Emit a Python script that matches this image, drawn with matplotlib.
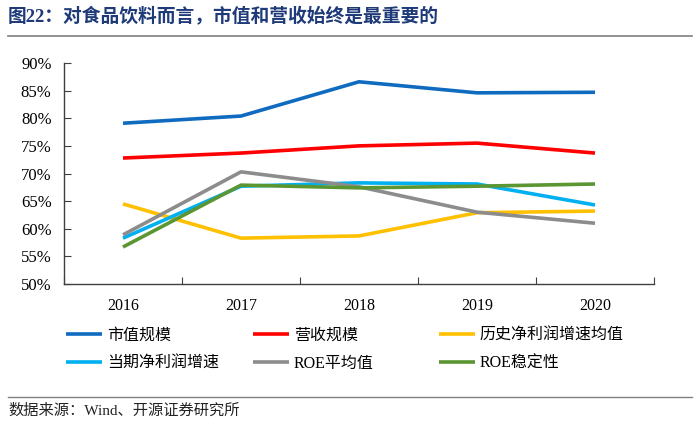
import matplotlib
matplotlib.use('Agg')
import matplotlib.pyplot as plt
from matplotlib.lines import Line2D
import numpy as np

plt.rcParams['font.family'] = ['Liberation Serif', 'Noto Sans CJK SC', 'DejaVu Sans']

years = ['2016', '2017', '2018', '2019', '2020']
shizhi = [79.1, 80.4, 86.6, 84.6, 84.7]
yingshou = [72.8, 73.7, 75.0, 75.5, 73.7]
lishi_jlr = [64.5, 58.3, 58.7, 62.9, 63.2]
dangqi_jlr = [58.3, 67.7, 68.3, 68.1, 64.3]
roe_avg = [58.9, 70.3, 67.6, 63.0, 61.0]
roe_std = [56.7, 67.9, 67.4, 67.7, 68.1]

series = [
    ('市值规模', shizhi, '#0F6BBF'),
    ('营收规模', yingshou, '#FF0000'),
    ('历史净利润增速均值', lishi_jlr, '#FFC000'),
    ('当期净利润增速', dangqi_jlr, '#00B0F0'),
    ('ROE平均值', roe_avg, '#8C8C8C'),
    ('ROE稳定性', roe_std, '#5B9632'),
]

W, H = 700, 429
fig = plt.figure(figsize=(W / 100, H / 100), dpi=100)
ax = fig.add_axes([64 / W, 1 - 284 / H, (654 - 64) / W, (284 - 63) / H])

x = np.arange(len(years))
lines = []
for name, vals, col in series:
    ln, = ax.plot(x, vals, color=col, lw=2.6, label=name, solid_capstyle='butt')
    lines.append(ln)

ax.set_xlim(-0.5, len(years) - 0.5)
ax.set_ylim(50, 90)
ax.set_yticks(np.arange(50, 91, 5))
ax.set_yticklabels(['%d%%' % v for v in range(50, 91, 5)])
ax.set_xticks(np.arange(-0.5, len(years), 1.0))
ax.set_xticklabels([])
ax.set_xticks(x, minor=True)
ax.set_xticklabels(years, minor=True)
ax.tick_params(axis='x', which='minor', length=0, pad=10, labelsize=11.5)
ax.tick_params(axis='x', which='major', direction='in', length=5, color='#404040')
ax.tick_params(axis='y', direction='in', length=5, color='#404040', labelsize=12, pad=9)
for s in ['top', 'right']:
    ax.spines[s].set_visible(False)
for s in ['left', 'bottom']:
    ax.spines[s].set_color('#404040')
    ax.spines[s].set_linewidth(1.0)

# legend: three columns placed separately
cols_x = [66, 253, 439]
for i, cx in enumerate(cols_x):
    hs = [lines[i], lines[i + 3]]
    fig.legend(handles=hs, labels=[h.get_label() for h in hs],
               loc='upper left', bbox_to_anchor=(cx / W, 1 - 328 / H),
               frameon=False, fontsize=11.5, handlelength=2.25,
               handletextpad=0.3, labelspacing=0.72, borderpad=0, borderaxespad=0)

# title and footer
fig.text(8 / W, 1 - 17 / H, '图22：对食品饮料而言，市值和营收始终是最重要的',
         fontsize=13.5, fontweight='bold', color='#1F3A78', va='center', ha='left')
fig.add_artist(Line2D([8 / W, 692 / W], [1 - 36 / H, 1 - 36 / H], color='#808080', lw=1.2))
fig.add_artist(Line2D([8 / W, 692 / W], [1 - 397 / H, 1 - 397 / H], color='#808080', lw=1.0))
fig.text(8 / W, 1 - 411 / H, '数据来源：Wind、开源证券研究所',
         fontsize=11, color='#222222', va='center', ha='left')

fig.savefig('out.png', dpi=100)
